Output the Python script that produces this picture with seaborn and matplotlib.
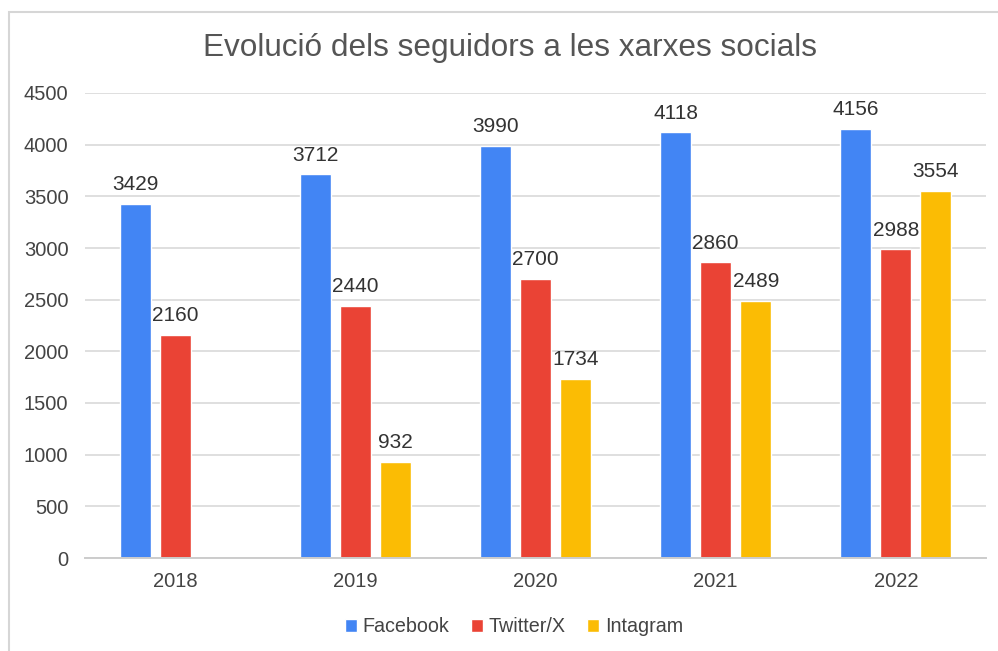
import numpy as np
import pandas as pd
import seaborn as sns
import matplotlib.pyplot as plt
from matplotlib.patches import Rectangle

years = ['2018', '2019', '2020', '2021', '2022']
facebook = [3429, 3712, 3990, 4118, 4156]
twitter = [2160, 2440, 2700, 2860, 2988]
instagram = [np.nan, 932, 1734, 2489, 3554]
series = ['Facebook', 'Twitter/X', 'Intagram']
colors = ['#4285F4', '#EA4335', '#FBBC04']

df = pd.DataFrame({
    'any': years * 3,
    'xarxa': [s for s in series for _ in years],
    'seguidors': facebook + twitter + instagram,
})

sns.set_style('white')
plt.rcParams['font.family'] = ['Liberation Sans', 'DejaVu Sans']

fig = plt.figure(figsize=(9.98, 6.51), dpi=100)
ax = fig.add_axes([85 / 998, 1 - 558 / 651, (986 - 85) / 998, (558 - 93) / 651])

sns.barplot(data=df, x='any', y='seguidors', hue='xarxa', hue_order=series,
            palette=colors, width=0.667, gap=0.225, saturation=1,
            ax=ax, legend=True)

txt = '#444444'
for c in ax.containers:
    labels = [f'{v:.0f}' if np.isfinite(v) else '' for v in c.datavalues]
    ax.bar_label(c, labels=labels, padding=7, fontsize=15, color='#333333')

ax.set_ylim(0, 4500)
ax.set_yticks(range(0, 4501, 500))
ax.yaxis.grid(True, color='#d9d9d9', linewidth=1.2)
ax.set_axisbelow(True)
for s in ['left', 'right', 'top']:
    ax.spines[s].set_visible(False)
ax.spines['bottom'].set_color('#cccccc')
ax.spines['bottom'].set_linewidth(1.4)
ax.tick_params(axis='both', length=0, labelsize=14.5, labelcolor=txt)
ax.tick_params(axis='y', pad=12)
ax.tick_params(axis='x', pad=10)
ax.set_xlabel('')
ax.set_ylabel('')

fig.text(0.5115, 1 - 48 / 651, 'Evolució dels seguidors a les xarxes socials',
         ha='center', va='center', fontsize=22.7, color='#555555')

ax.legend(loc='center', bbox_to_anchor=(0.515, 1 - 627 / 651), bbox_transform=fig.transFigure,
          ncol=3, frameon=False, fontsize=14.2, handlelength=0.6, handleheight=0.6,
          handletextpad=0.3, columnspacing=1.1, labelcolor=txt)

fig.patches.append(Rectangle((9 / 998, -0.1), 1.2, 1 - 12 / 651 + 0.1,
                             transform=fig.transFigure, fill=False,
                             edgecolor='#d6d6d6', linewidth=1.5))

fig.savefig('out.png', dpi=100)
